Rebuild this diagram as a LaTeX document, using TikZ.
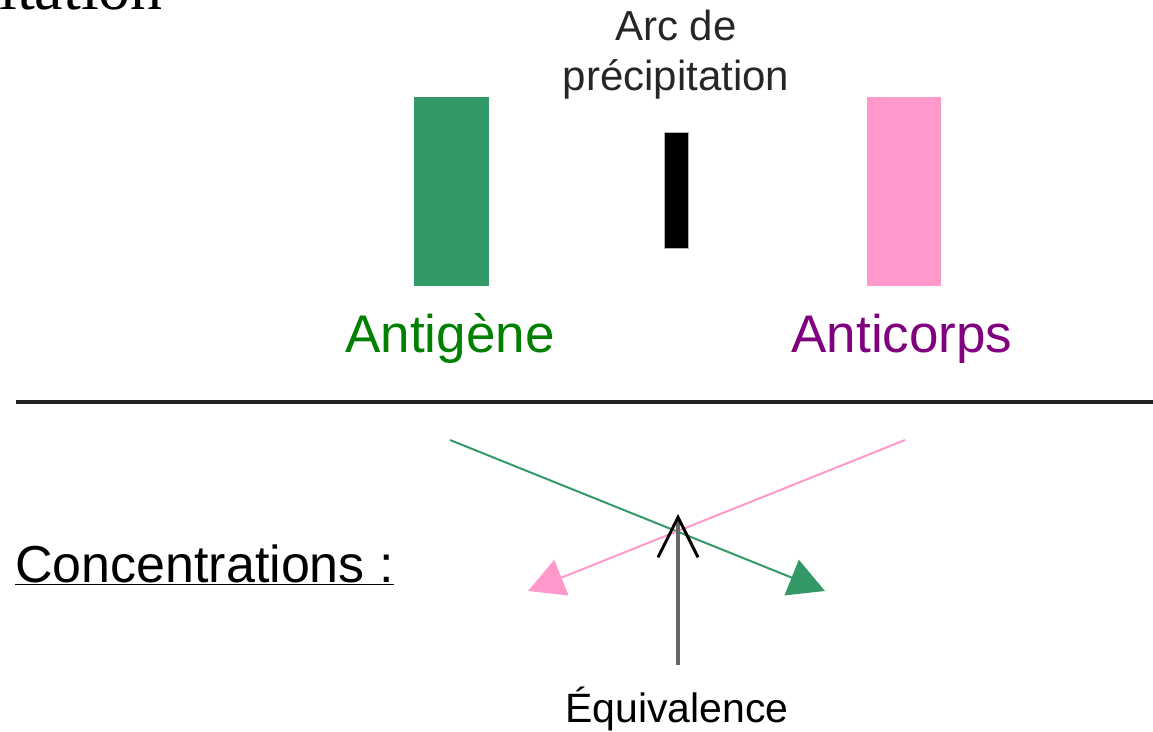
\documentclass[tikz,border=0pt]{standalone}
\usepackage{fontspec}
\setmainfont{Liberation Sans}
\newfontfamily\titlefont{Liberation Serif}
\usepackage{xcolor}
\definecolor{agGreen}{HTML}{339966}
\definecolor{abPink}{HTML}{FF99CC}
\definecolor{agText}{HTML}{008000}
\definecolor{abText}{HTML}{800080}
\definecolor{ruleGray}{HTML}{222222}
\usepackage{tikz}
\usetikzlibrary{arrows.meta, positioning}

\begin{document}
\begin{tikzpicture}[
		x=1pt, y=-1pt,
		bar/.style={
			minimum width=75pt,
			minimum height=189pt,
			inner sep=0pt
		},
		label/.style={
			anchor=base,
			inner sep=0pt,
			font=\fontsize{53}{60}\selectfont
		},
		flux/.style={
			line width=2pt,
			-{Triangle[length=36pt, width=38pt]}
		}
		]
		
		\useasboundingbox (0,0) rectangle (1153,731);
		\clip (0,0) rectangle (1153,731);
		
		\node[anchor=base east, inner sep=0pt, font=\fontsize{64}{70}\selectfont\titlefont] (titre) at (163,9) {itation};
		
		\node[bar, fill=agGreen] (ag) at (451.5,191.5) {};
		\node[bar, fill=abPink, minimum width=74pt] (ab) at (904,191.5) {};
		\node[bar, fill=black, draw=black!30, line width=1pt, minimum width=24pt, minimum height=116pt] (arc) at (676.5,190.5) {};
		
		\node[label, text=agText] (agname) at (450,352) {Antigène};
		\node[label, text=abText] (abname) at (902,352) {Anticorps};
		\node[label, align=center, text=black!85, font=\fontsize{42}{50}\selectfont] (arcname) at (676,90) {Arc de\\précipitation};
		
		\draw[ruleGray, line width=3.5pt] (16,402) -- (1153,402);
		
		\node[label, anchor=base west, font=\fontsize{52}{60}\selectfont] (conc) at (15,582) {\underline{Concentrations :}};
		
		\coordinate (agstart) at (450,440);
		\coordinate (agend) at (825,591);
		\coordinate (abstart) at (905,440);
		\coordinate (abend) at (528,591);
		\coordinate (eqbase) at (678,665);
		\coordinate (eqtip) at (678,514);
		
		\draw[flux, agGreen] (agstart) -- (agend);
		\draw[flux, abPink] (abstart) -- (abend);
		\draw[line width=4pt, black!60, -{Straight Barb[length=40pt, width=40pt, line width=3pt, color=black]}] (eqbase) -- (eqtip);
		
		\node[label, font=\fontsize{41}{48}\selectfont] (eqname) at (677,722) {Équivalence};
		
	\end{tikzpicture}
\end{document}
